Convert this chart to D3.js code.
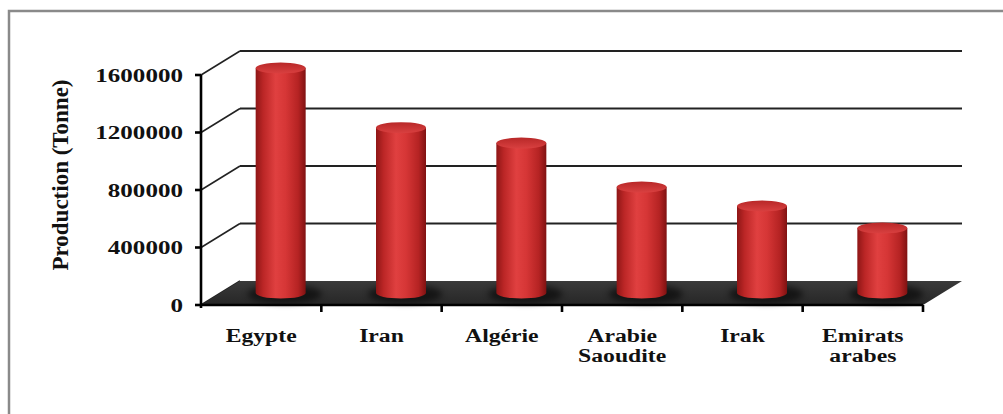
<!DOCTYPE html>
<html><head><meta charset="utf-8">
<script src="https://cdn.jsdelivr.net/npm/d3@7/dist/d3.min.js"></script>
<style>html,body{margin:0;padding:0;background:#fff;}svg{display:block;}</style>
</head><body>
<svg id="c" width="1003" height="414"></svg>
<script>
const categories = ["Egypte", "Iran", "Algérie", "Arabie\nSaoudite", "Irak", "Emirats\narabes"];
const values = [1565000, 1150000, 1043000, 737000, 605000, 452000];
const yTicks = [0, 400000, 800000, 1200000, 1600000];
const yTitle = "Production (Tonne)";

const svg = d3.select("#c");
const W = 1003, H = 414;
const x0 = 201, x1 = 923, yBase = 305, yTop = 75;
const dX = 39, dY = -24;   // depth offset
const x = d3.scaleBand().domain(categories).range([x0, x1]);
const y = d3.scaleLinear().domain([0, 1600000]).range([yBase, yTop]);

const defs = svg.append("defs");
const bodyG = defs.append("linearGradient").attr("id", "body").attr("x1", 0).attr("x2", 1).attr("y1", 0).attr("y2", 0);
[[0, "#8e1616"], [0.15, "#bb2626"], [0.4, "#e04040"], [0.6, "#d63636"], [0.85, "#b52323"], [1, "#801212"]]
  .forEach(([o, c]) => bodyG.append("stop").attr("offset", o).attr("stop-color", c));
const topG = defs.append("linearGradient").attr("id", "top").attr("x1", 0).attr("x2", 0).attr("y1", 0).attr("y2", 1);
[[0, "#b82828"], [1, "#d94040"]].forEach(([o, c]) => topG.append("stop").attr("offset", o).attr("stop-color", c));
const floorG = defs.append("linearGradient").attr("id", "floor").attr("x1", 0).attr("x2", 0).attr("y1", 0).attr("y2", 1);
[[0, "#3a3a3a"], [1, "#262626"]].forEach(([o, c]) => floorG.append("stop").attr("offset", o).attr("stop-color", c));
const blur = defs.append("filter").attr("id", "blur").attr("x", "-50%").attr("y", "-50%").attr("width", "200%").attr("height", "200%");
blur.append("feGaussianBlur").attr("stdDeviation", 3);

// outer border
svg.append("rect").attr("x", 9).attr("y", 11).attr("width", W + 20).attr("height", H + 20)
  .attr("fill", "none").attr("stroke", "#8a8a8a").attr("stroke-width", 2.5);

// back wall gridlines and side diagonals
const grid = svg.append("g");
yTicks.filter(t => t > 0).forEach(t => {
  grid.append("line").attr("x1", x0 + dX).attr("x2", x1 + dX)
    .attr("y1", y(t) + dY).attr("y2", y(t) + dY).attr("stroke", "#222").attr("stroke-width", 2);
});
yTicks.forEach(t => {
  grid.append("line").attr("x1", x0).attr("y1", y(t)).attr("x2", x0 + dX).attr("y2", y(t) + dY)
    .attr("stroke", "#222").attr("stroke-width", 1.6);
});

// floor
svg.append("polygon")
  .attr("points", [[x0, yBase], [x1, yBase], [x1 + dX, yBase + dY], [x0 + dX, yBase + dY]].map(p => p.join(",")).join(" "))
  .attr("fill", "url(#floor)");

// cylinders
const rx = 25, ry = 5.5;
const cyl = svg.append("g");
categories.forEach((c, i) => {
  const cx = x(c) + x.bandwidth() / 2 + dX / 2;
  const base = y(0) + dY / 2;
  const topY = y(values[i]) + dY / 2;
  cyl.append("ellipse").attr("cx", cx + 4).attr("cy", base + 1).attr("rx", rx + 12).attr("ry", ry + 4)
    .attr("fill", "#000").attr("opacity", 0.55).attr("filter", "url(#blur)");
  cyl.append("path")
    .attr("d", `M${cx - rx},${topY} L${cx - rx},${base} A${rx},${ry} 0 0 0 ${cx + rx},${base} L${cx + rx},${topY} Z`)
    .attr("fill", "url(#body)");
  cyl.append("ellipse").attr("cx", cx).attr("cy", topY).attr("rx", rx).attr("ry", ry)
    .attr("fill", "url(#top)");
});

// axes
const axG = svg.append("g").attr("stroke", "#000").attr("stroke-width", 2.6).attr("fill", "none");
axG.append("line").attr("x1", x0).attr("x2", x0).attr("y1", yTop).attr("y2", yBase + 3);
axG.append("line").attr("x1", x0 - 1).attr("x2", x1).attr("y1", yBase).attr("y2", yBase);
yTicks.forEach(t => axG.append("line").attr("x1", x0 - 6).attr("x2", x0).attr("y1", y(t)).attr("y2", y(t)));
categories.forEach(c => {
  const xx = x(c) + x.bandwidth();
  axG.append("line").attr("x1", xx).attr("x2", xx).attr("y1", yBase).attr("y2", yBase + 7);
});

// y tick labels
const font = "'Liberation Serif','Times New Roman',serif";
yTicks.forEach(t => {
  svg.append("text").attr("transform", `translate(183,${y(t) + 6.5}) scale(1.32,1)`)
    .attr("text-anchor", "end").attr("font-family", font).attr("font-weight", "bold")
    .attr("font-size", 19).attr("fill", "#111").text(t);
});

// category labels
categories.forEach(c => {
  const cx = x(c) + x.bandwidth() / 2;
  c.split("\n").forEach((ln, j) => {
    svg.append("text").attr("transform", `translate(${cx},${342 + j * 20}) scale(1.28,1)`)
      .attr("text-anchor", "middle").attr("font-family", font).attr("font-weight", "bold")
      .attr("font-size", 18.5).attr("fill", "#111").text(ln);
  });
});

// y title
svg.append("text").attr("transform", `translate(68,175) rotate(-90)`)
  .attr("text-anchor", "middle").attr("font-family", font).attr("font-weight", "bold")
  .attr("font-size", 23).attr("fill", "#111").text(yTitle);
</script>
</body></html>
